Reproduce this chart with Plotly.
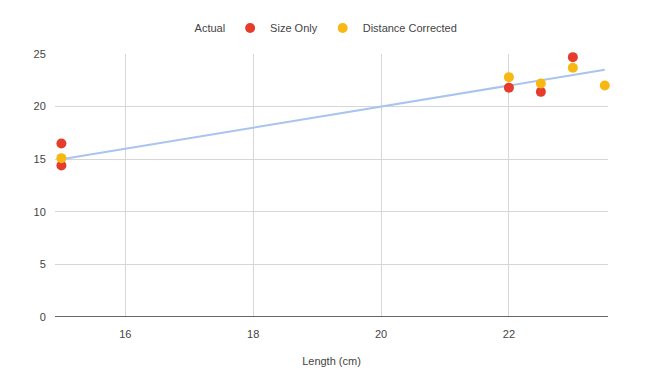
import plotly.graph_objects as go

# Data
actual_x = [15, 23.5]
actual_y = [15, 23.5]
size_x = [15, 15, 22, 22.5, 23]
size_y = [16.5, 14.4, 21.8, 21.4, 24.7]
dist_x = [15, 22, 22.5, 23, 23.5]
dist_y = [15.1, 22.8, 22.2, 23.7, 22.0]
x_ticks = [16, 18, 20, 22]
y_ticks = [0, 5, 10, 15, 20, 25]

fig = go.Figure()
fig.add_trace(go.Scatter(x=actual_x, y=actual_y, mode="lines", name="Actual",
                         line=dict(color="#a9c4ee", width=2), showlegend=False))
fig.add_trace(go.Scatter(x=[None], y=[None], mode="lines", name="Actual",
                         line=dict(color="rgba(0,0,0,0)", width=0)))
fig.add_trace(go.Scatter(x=size_x, y=size_y, mode="markers", name="Size Only",
                         marker=dict(color="#e53c2e", size=10), cliponaxis=False))
fig.add_trace(go.Scatter(x=dist_x, y=dist_y, mode="markers", name="Distance Corrected",
                         marker=dict(color="#f7b813", size=10), cliponaxis=False))

fig.update_layout(
    width=654, height=387,
    margin=dict(l=47, r=54, t=46, b=78, autoexpand=False),
    paper_bgcolor="white", plot_bgcolor="white",
    font=dict(family="Liberation Sans, Arial, sans-serif", size=11, color="#444"),
    legend=dict(orientation="h", x=0.18, xanchor="left", y=1.099, yanchor="middle",
                font=dict(size=11, color="#444"), itemwidth=30,
                bgcolor="rgba(0,0,0,0)"),
    xaxis=dict(range=[14.9, 23.55], tickvals=x_ticks, showgrid=True, gridcolor="#d6d6d6",
               zeroline=False, showline=False, ticks="outside", ticklen=7,
               tickcolor="rgba(0,0,0,0)",
               title=dict(text="Length (cm)", standoff=18, font=dict(size=11, color="#444"))),
    yaxis=dict(range=[0, 25], tickvals=y_ticks, showgrid=True, gridcolor="#d6d6d6",
               zeroline=False, showline=False, ticks="outside", ticklen=6,
               tickcolor="rgba(0,0,0,0)"),
    shapes=[dict(type="line", xref="paper", yref="y", x0=0, x1=1, y0=0, y1=0,
                 line=dict(color="#333", width=1.5))],
)
fig.write_html("out.html")
